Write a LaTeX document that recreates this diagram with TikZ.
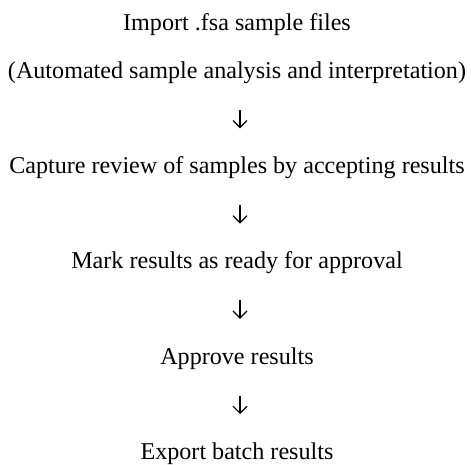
\documentclass[tikz,border=0pt]{standalone}
\usepackage{fontspec}
\setmainfont{Liberation Serif}
\usetikzlibrary{arrows.meta}
\newlength\widestw
\begin{document}
\settowidth\widestw{\fontsize{20pt}{24pt}\selectfont (Automated sample analysis and interpretation)}
\begin{tikzpicture}[x=1pt,y=1pt]
\pgfmathsetmacro\fs{20*458/\widestw}
\tikzset{
  lbl/.style={anchor=base, inner sep=0pt, font=\fontsize{\fs pt}{\fs pt}\selectfont},
  flow/.style={line width=1.2pt, -{Straight Barb[length=7pt,width=14pt,line width=1.2pt]}}
}
\useasboundingbox (0,0) rectangle (471,465);
\node[lbl] (t1) at (237,{465-31}) {Import .fsa sample files};
\node[lbl] (t2) at (237,{465-78.6}) {(Automated sample analysis and interpretation)};
\node[lbl] (t3) at (237,{465-173.8}) {Capture review of samples by accepting results};
\node[lbl] (t4) at (237,{465-269}) {Mark results as ready for approval};
\node[lbl] (t5) at (237,{465-364.2}) {Approve results};
\node[lbl] (t6) at (237,{465-459.4}) {Export batch results};
\coordinate (a1s) at (240,{465-110}); \coordinate (a1e) at (240,{465-128.4});
\coordinate (a2s) at (240,{465-205.2}); \coordinate (a2e) at (240,{465-223.6});
\coordinate (a3s) at (240,{465-300.4}); \coordinate (a3e) at (240,{465-318.8});
\coordinate (a4s) at (240,{465-395.6}); \coordinate (a4e) at (240,{465-414});
\draw[flow] (a1s) -- (a1e);
\draw[flow] (a2s) -- (a2e);
\draw[flow] (a3s) -- (a3e);
\draw[flow] (a4s) -- (a4e);
\end{tikzpicture}
\end{document}
